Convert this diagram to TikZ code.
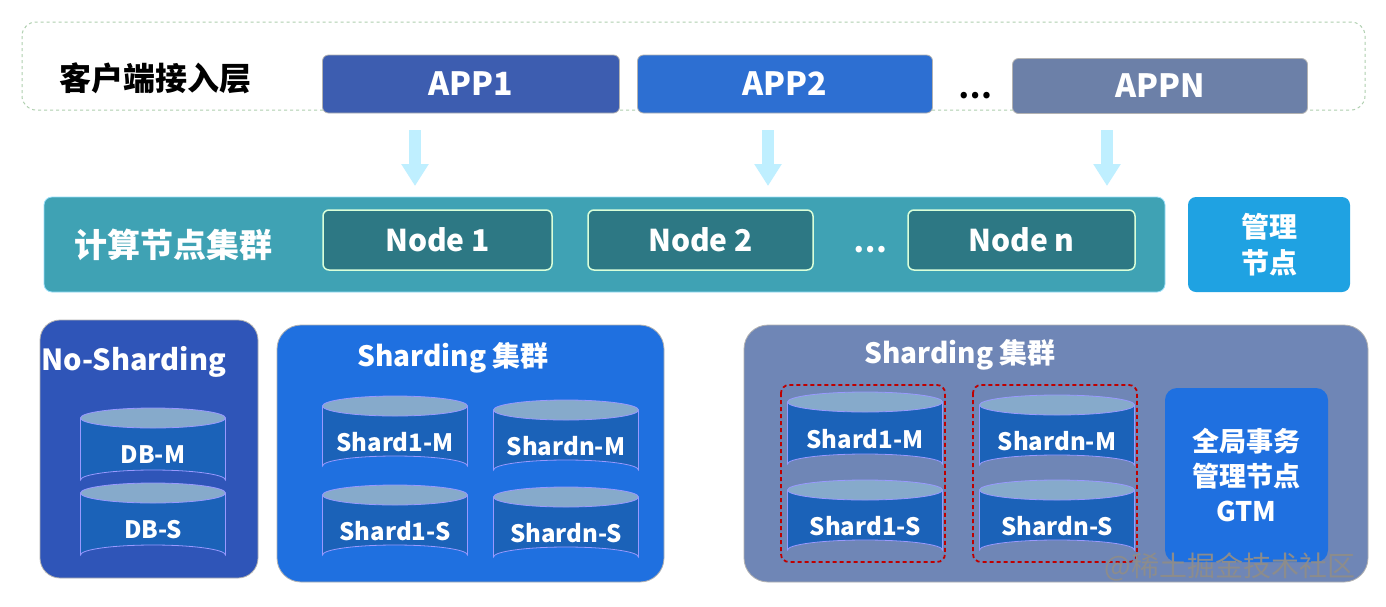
\documentclass[tikz,border=0pt]{standalone}
\usepackage{fontspec}
\setmainfont{Noto Sans CJK SC}
\usetikzlibrary{arrows.meta}
\definecolor{appA}{HTML}{3D5DB0}
\definecolor{appB}{HTML}{2D6FD2}
\definecolor{appC}{HTML}{6C80A8}
\definecolor{band}{HTML}{3FA2B4}
\definecolor{nodeC}{HTML}{2D7884}
\definecolor{mgmt}{HTML}{1FA2E2}
\definecolor{nosh}{HTML}{2F55B8}
\definecolor{shc}{HTML}{1F70E0}
\definecolor{grayb}{HTML}{6F86B6}
\definecolor{cylb}{HTML}{1B62B8}
\definecolor{cylt}{HTML}{86AACB}
\tikzset{
 box/.style={rounded corners=9pt,draw=white!70!black,line width=0.8pt},
 txt/.style={text=white,font=\bfseries},
 cyltxt/.style={text=white,font=\bfseries\fontsize{24}{26}\selectfont},
 darr/.style={-{Triangle[width=26pt,length=22pt]},line width=12pt,draw=blue!25!cyan!25!white},
 appf/.style={font=\bfseries\fontsize{32}{34}\selectfont},
}
\newcommand{\mycyl}[6]{% name, cx, top y, w, h, text
 \fill[cylb,draw=white!60!blue,line width=0.8pt] ({#2-#4/2},{#3}) -- ({#2-#4/2},{#3+#5}) arc[start angle=180,end angle=360,x radius={#4/2},y radius=10] -- ({#2+#4/2},{#3}) -- cycle;
 \fill[cylt,draw=white!60!blue,line width=0.8pt] (#2,#3) ellipse[x radius={#4/2},y radius=10];
 \node[cyltxt] (#1) at (#2,{#3+#5/2+6}) {#6};
}
\begin{document}
\begin{tikzpicture}[x=1pt,y=-1pt]
\useasboundingbox (0,0) rectangle (1386,606);
\fill[white] (0,0) rectangle (1386,606);
% client layer
\draw[rounded corners=14pt,dash pattern=on 3pt off 3pt,draw=green!25!gray!50,line width=1pt] (22,22) rectangle (1365,110);
\node[font=\bfseries\fontsize{32}{34}\selectfont] (cl) at (155,78) {客户端接入层};
\node[box,fill=appA,txt,minimum width=297pt,minimum height=58pt,appf,rounded corners=6pt] (app1) at (471,84) {APP1};
\node[box,fill=appB,txt,minimum width=295pt,minimum height=58pt,appf,rounded corners=6pt] (app2) at (785,84) {APP2};
\node[font=\bfseries\fontsize{30}{32}\selectfont] (d1) at (975,96) {…};
\node[box,fill=appC,txt,minimum width=295pt,minimum height=55pt,appf,rounded corners=6pt] (appn) at (1160,86) {APPN};
% arrows
\coordinate (a1) at (415,130); \coordinate (b1) at (415,186);
\coordinate (a2) at (768,130); \coordinate (b2) at (768,186);
\coordinate (a3) at (1107,130); \coordinate (b3) at (1107,186);
\draw[darr] (a1) -- (b1); \draw[darr] (a2) -- (b2); \draw[darr] (a3) -- (b3);
% compute band
\node[box,fill=band,minimum width=1121pt,minimum height=95pt,rounded corners=8pt,draw=cyan!40!white] (cb) at (604.5,244.5) {};
\node[txt,font=\bfseries\fontsize{33}{35}\selectfont] (cbt) at (173,245) {计算节点集群};
\tikzset{nd/.style={fill=nodeC,draw=green!15!white,line width=1.5pt,rounded corners=6pt,txt,minimum height=60pt,font=\bfseries\fontsize{30}{32}\selectfont}}
\node[nd,minimum width=229pt] (n1) at (437.5,240) {Node 1};
\node[nd,minimum width=225pt] (n2) at (700.5,240) {Node 2};
\node[txt,font=\bfseries\fontsize{30}{32}\selectfont] (d2) at (870,250) {…};
\node[nd,minimum width=227pt] (nn) at (1021.5,240) {Node n};
\node[fill=mgmt,rounded corners=8pt,minimum width=162pt,minimum height=95pt,txt,align=center,font=\bfseries\fontsize{28}{36}\selectfont] (mg) at (1269,244.5) {管理\\节点};
% no-sharding
\node[box,fill=nosh,minimum width=218pt,minimum height=258pt,rounded corners=20pt] (nsb) at (149,449) {};
\node[txt,font=\bfseries\fontsize{29}{31}\selectfont] (nst) at (134,362) {No-Sharding};
\mycyl{dbm}{153}{418}{145}{62}{DB-M}
\mycyl{dbs}{153}{493}{145}{62}{DB-S}
% sharding
\node[box,fill=shc,minimum width=387pt,minimum height=257pt,rounded corners=24pt] (shb) at (470.5,453.5) {};
\node[txt,font=\bfseries\fontsize{28}{30}\selectfont] (sht) at (453,358) {Sharding 集群};
\mycyl{s1m}{395}{406}{145}{60}{Shard1-M}
\mycyl{snm}{566}{410}{145}{60}{Shardn-M}
\mycyl{s1s}{395}{495}{145}{60}{Shard1-S}
\mycyl{sns}{566}{497}{145}{60}{Shardn-S}
% right sharding
\node[box,fill=grayb,minimum width=624pt,minimum height=257pt,rounded corners=24pt] (rb) at (1056,453.5) {};
\node[txt,font=\bfseries\fontsize{28}{30}\selectfont] (rt) at (960,355) {Sharding 集群};
\draw[red!75!black,line width=1.8pt,dash pattern=on 4pt off 3pt,rounded corners=8pt] (781,385) rectangle (945,562);
\draw[red!75!black,line width=1.8pt,dash pattern=on 4pt off 3pt,rounded corners=8pt] (973,385) rectangle (1137,562);
\mycyl{r1m}{865}{402}{155}{62}{Shard1-M}
\mycyl{rnm}{1057}{405}{155}{60}{Shardn-M}
\mycyl{r1s}{865}{490}{155}{60}{Shard1-S}
\mycyl{rns}{1057}{490}{155}{60}{Shardn-S}
\node[fill=shc,rounded corners=12pt,minimum width=163pt,minimum height=174pt,txt,align=center,font=\bfseries\fontsize{27}{35}\selectfont] (gtm) at (1246.5,475) {全局事务\\管理节点\\GTM};
\node[text=white!55!black,font=\fontsize{28}{30}\selectfont] (wm) at (1230,567) {@稀土掘金技术社区};
\end{tikzpicture}
\end{document}
